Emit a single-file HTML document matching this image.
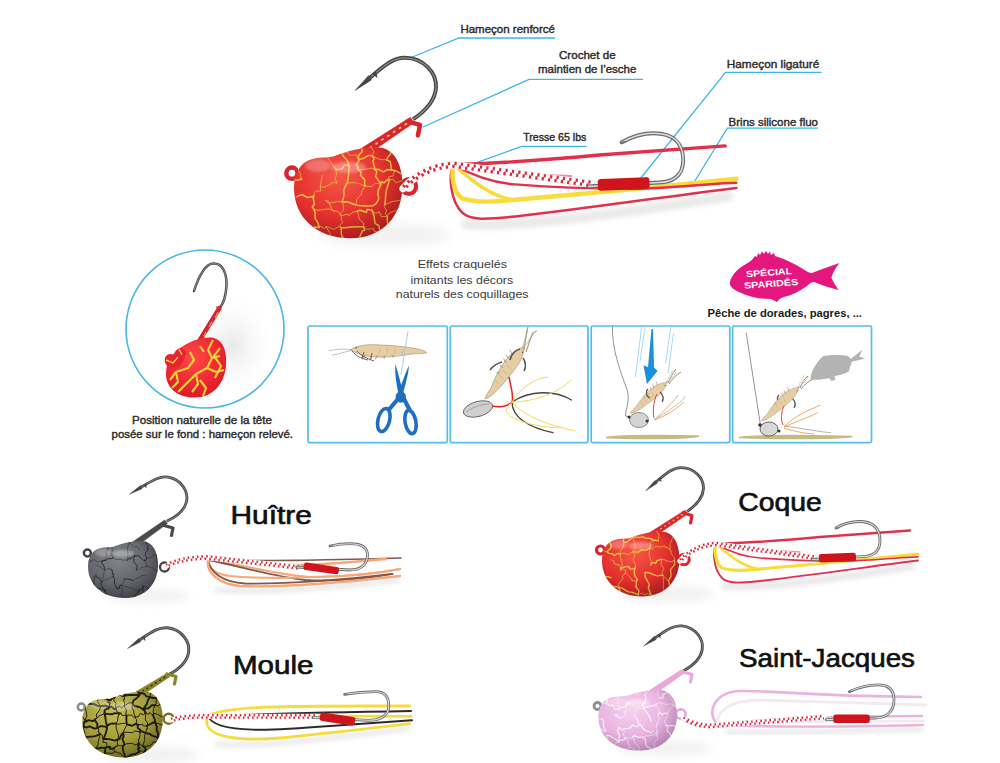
<!DOCTYPE html>
<html><head><meta charset="utf-8"><style>
html,body{margin:0;padding:0;background:#fff;}
svg{display:block;}
text{font-family:"Liberation Sans",sans-serif;}
</style></head><body>
<svg width="1000" height="763" viewBox="0 0 1000 763">
<defs><filter id="blur" x="-50%" y="-50%" width="200%" height="200%"><feGaussianBlur stdDeviation="4"/></filter>
<radialGradient id="hshade" cx="0.4" cy="0.35" r="0.75"><stop offset="0.55" stop-color="#000" stop-opacity="0"/><stop offset="1" stop-color="#000" stop-opacity="0.22"/></radialGradient><filter id="blur1" x="-50%" y="-50%" width="200%" height="200%"><feGaussianBlur stdDeviation="1.2"/></filter><filter id="blur2" x="-50%" y="-50%" width="200%" height="200%"><feGaussianBlur stdDeviation="2"/></filter><radialGradient id="gcoque" cx="0.42" cy="0.32" r="0.8"><stop offset="0" stop-color="#f65848"/><stop offset="0.55" stop-color="#e4302e"/><stop offset="1" stop-color="#c41e22"/></radialGradient><radialGradient id="gmain" cx="0.42" cy="0.32" r="0.8"><stop offset="0" stop-color="#f65848"/><stop offset="0.55" stop-color="#e4302e"/><stop offset="1" stop-color="#c41e22"/></radialGradient><radialGradient id="ghuitre" cx="0.42" cy="0.32" r="0.8"><stop offset="0" stop-color="#84858a"/><stop offset="0.55" stop-color="#64656b"/><stop offset="1" stop-color="#47484d"/></radialGradient><radialGradient id="gmoule" cx="0.42" cy="0.32" r="0.8"><stop offset="0" stop-color="#c4bc52"/><stop offset="0.55" stop-color="#a49c3a"/><stop offset="1" stop-color="#747028"/></radialGradient><radialGradient id="gsj" cx="0.42" cy="0.32" r="0.8"><stop offset="0" stop-color="#f6d4f0"/><stop offset="0.55" stop-color="#e8b2e0"/><stop offset="1" stop-color="#d898d0"/></radialGradient></defs>
<rect width="1000" height="763" fill="#ffffff"/>
<text x="460.4" y="32.6" font-size="11.2" fill="#2b2b2b" stroke="#2b2b2b" stroke-width="0.4" textLength="94.6" lengthAdjust="spacingAndGlyphs">Hameçon renforcé</text><polyline points="555.0,38.0 459.0,38.0 410.0,58.0" fill="none" stroke="#3db6e8" stroke-width="1.3"/><text x="559" y="59.4" font-size="11.2" fill="#2b2b2b" stroke="#2b2b2b" stroke-width="0.4" textLength="56.6" lengthAdjust="spacingAndGlyphs">Crochet de</text><text x="538" y="73.4" font-size="11.2" fill="#2b2b2b" stroke="#2b2b2b" stroke-width="0.4" textLength="98.4" lengthAdjust="spacingAndGlyphs">maintien de l’esche</text><polyline points="643.0,79.4 529.0,79.4 423.0,127.0" fill="none" stroke="#3db6e8" stroke-width="1.3"/><text x="523.2" y="141.3" font-size="11.2" fill="#2b2b2b" stroke="#2b2b2b" stroke-width="0.4" textLength="63.2" lengthAdjust="spacingAndGlyphs">Tresse 65 lbs</text><polyline points="586.4,146.4 521.6,146.4 464.0,167.2" fill="none" stroke="#3db6e8" stroke-width="1.3"/><text x="726.8" y="68.4" font-size="11.2" fill="#2b2b2b" stroke="#2b2b2b" stroke-width="0.4" textLength="92.4" lengthAdjust="spacingAndGlyphs">Hameçon ligaturé</text><polyline points="821.6,72.4 725.6,72.4 636.0,184.0" fill="none" stroke="#3db6e8" stroke-width="1.3"/><text x="728.6" y="126.4" font-size="11.2" fill="#2b2b2b" stroke="#2b2b2b" stroke-width="0.4" textLength="89.4" lengthAdjust="spacingAndGlyphs">Brins silicone fluo</text><polyline points="818.0,128.2 727.4,128.2 693.0,184.0" fill="none" stroke="#3db6e8" stroke-width="1.3"/><g><ellipse cx="667.9" cy="593.9" rx="46.5" ry="7.8" fill="#f1f1f1" filter="url(#blur)"/><g transform="matrix(0.99732 0.01553 -0.01553 0.99732 9.395 -8.757)"><path d="M656,481.6 C665,474 672,467 681,467 C694,467 704,477 703.5,488 C703,498 696,505 687.4,511" fill="none" stroke="#454545" stroke-width="2.8" stroke-linecap="butt"/><path d="M657,480.8 C665,474 672,467 681,467 C694,467 704,477 703.5,488 C703,498 696,505 687.4,511" fill="none" stroke="#a9a9a0" stroke-width="0.84" opacity="0.75"/><path d="M645.6,490.9 L657.2,483.2 L655,480.2 Z" fill="#454545" stroke="#454545" stroke-width="0.4" stroke-linejoin="round"/><path d="M657.5,478.6 L661.5,482 L660.5,477.2 Z" fill="#454545"/></g><path d="M683.0,513.0 L692.0,515.5 L690.5,523.0" fill="none" stroke="#d9252f" stroke-width="3.2" stroke-linecap="round" stroke-linejoin="round"/><path d="M685.1,510.2 L648.3,533.5 L651.7,538.5 L687.5,513.9 Z" fill="#d9252f" stroke="#d9252f" stroke-width="0.6" stroke-linejoin="round"/><path d="M682.7,514.4 L650.0,536.0" stroke="#f0c040" stroke-width="1.3" stroke-dasharray="2 3" /><circle cx="600.5" cy="550.0" r="4" fill="none" stroke="#d9252f" stroke-width="3.2"/><circle cx="684.0" cy="559.5" r="5.2" fill="none" stroke="#d9252f" stroke-width="3"/><clipPath id="ccoque"><path d="M602.0,560.8 C602.0,551.0 605.9,542.5 614.4,540.0 C620.6,538.0 625.2,539.3 629.9,538.0 C640.8,534.1 650.0,531.5 660.9,531.5 C674.1,531.5 679.5,544.5 679.5,558.8 C679.5,580.2 665.5,596.5 642.3,596.5 C617.5,596.5 602.0,580.9 602.0,560.8 Z"/></clipPath><path d="M602.0,560.8 C602.0,551.0 605.9,542.5 614.4,540.0 C620.6,538.0 625.2,539.3 629.9,538.0 C640.8,534.1 650.0,531.5 660.9,531.5 C674.1,531.5 679.5,544.5 679.5,558.8 C679.5,580.2 665.5,596.5 642.3,596.5 C617.5,596.5 602.0,580.9 602.0,560.8 Z" fill="url(#gcoque)"/><g clip-path="url(#ccoque)"><path d="M592.8,525.5L597.2,525.0L601.7,523.7L606.1,524.1L609.9,521.4M594.2,539.1L598.4,537.9L602.5,540.9L604.2,541.6L609.9,541.8M594.2,539.1L594.3,541.7L596.4,540.9L594.5,545.3L596.8,546.4M596.8,546.4L599.6,548.5L602.1,549.4L605.0,551.2L608.7,553.4M590.5,567.4L589.9,568.8L592.5,569.2L591.7,571.8L593.0,574.1M593.0,574.1L595.0,576.7L598.0,583.1L597.5,584.8L600.7,589.5M600.7,589.5L599.9,592.4L601.5,594.7L597.5,601.0L599.0,602.5M609.9,521.4L615.1,524.9L615.7,526.1L621.6,527.7L623.7,528.9M610.3,559.4L614.0,561.1L614.4,564.0L619.4,564.9L620.9,568.4M606.4,585.0L609.0,587.4L607.6,592.3L609.3,596.4L612.3,602.5M623.7,542.3L623.6,545.0L622.8,548.0L620.2,551.3L620.3,554.1M620.3,554.1L623.2,553.2L628.1,554.6L629.2,553.9L632.9,551.8M620.3,554.1L620.3,556.2L621.8,561.9L622.2,566.0L620.9,568.4M620.9,568.4L620.4,571.0L621.9,568.7L625.6,570.1L625.4,572.7M625.4,572.7L629.4,576.6L631.1,578.2L631.8,580.2L636.3,581.3M625.4,572.7L621.9,577.2L623.2,578.1L618.9,583.6L617.7,586.9M635.7,523.0L635.7,525.7L634.0,530.6L636.5,532.5L634.5,536.8M634.5,536.8L633.5,539.9L634.7,542.9L635.2,548.0L632.9,551.8M632.9,551.8L635.2,555.8L633.0,558.9L635.5,564.7L635.3,568.1M638.1,594.9L642.0,593.0L643.9,594.6L647.7,593.8L651.0,594.9M636.2,599.3L638.1,599.4L638.8,603.2L639.9,605.7L643.1,605.9M651.1,529.8L654.9,527.2L656.3,526.6L656.5,524.2L659.4,521.4M651.5,538.7L651.7,541.3L649.3,543.9L650.6,544.4L649.6,547.9M649.6,547.9L651.8,549.2L655.5,546.4L661.4,547.0L664.2,546.2M649.6,547.9L649.7,551.4L648.9,554.6L651.3,561.5L650.8,564.7M651.0,594.9L655.6,595.8L658.0,593.5L660.6,593.6L664.3,594.8M651.0,594.9L647.9,596.7L648.2,598.6L646.3,604.7L643.1,605.9M643.1,605.9L647.6,606.7L652.2,608.8L656.8,606.6L660.4,607.9M659.4,521.4L662.8,522.1L663.4,522.1L668.9,520.8L671.3,520.6M659.4,521.4L657.9,526.4L657.0,531.1L659.0,535.7L658.2,540.8M664.2,546.2L666.8,547.6L665.4,547.6L667.6,547.4L670.1,550.0M661.5,559.2L666.2,560.2L666.5,561.1L671.6,561.7L674.4,560.3M661.5,559.2L661.2,564.4L663.7,568.5L662.1,572.1L662.6,575.1M662.6,575.1L662.3,574.9L664.4,576.6L667.0,580.0L668.5,580.7M662.6,575.1L663.6,579.3L663.3,585.9L663.5,588.6L664.3,594.8M671.3,520.6L670.8,523.7L671.1,525.0L673.4,529.6L674.3,533.1M674.3,533.1L672.9,536.9L670.4,543.4L670.1,544.2L670.1,550.0M670.1,550.0L671.7,552.0L670.8,553.4L674.2,556.9L674.4,560.3M671.3,594.6L671.1,596.9L675.9,596.9L677.7,599.7L677.4,601.5" fill="none" stroke="#f0c040" stroke-width="0.70" stroke-linejoin="round" stroke-linecap="round"/><path d="M592.8,525.5L594.0,527.9L592.7,534.1L593.9,535.9L594.2,539.1M596.8,546.4L594.8,552.7L591.8,557.2L593.0,561.4L590.5,567.4M593.0,574.1L598.9,573.7L601.5,576.5L608.1,576.7L611.2,577.8M600.7,589.5L603.3,587.8L602.1,586.4L606.1,585.2L606.4,585.0M609.9,521.4L609.3,525.4L608.2,531.9L609.1,537.9L609.9,541.8M609.9,541.8L611.2,546.2L610.9,547.9L607.1,551.5L608.7,553.4M608.7,553.4L612.3,553.7L614.2,555.5L617.9,553.3L620.3,554.1M606.4,585.0L609.7,586.8L610.3,585.0L614.0,586.5L617.7,586.9M623.7,528.9L626.7,526.7L629.0,525.4L633.3,524.8L635.7,523.0M623.7,528.9L623.0,530.8L623.9,536.5L623.2,537.4L623.7,542.3M623.7,542.3L626.8,542.1L628.6,540.7L632.2,537.9L634.5,536.8M620.9,568.4L624.7,566.8L628.4,566.3L630.3,569.2L635.3,568.1M617.7,586.9L621.5,587.9L628.3,591.9L632.6,592.4L638.1,594.9M617.7,586.9L619.5,589.1L622.0,596.3L623.8,599.3L626.3,602.1M626.3,602.1L629.7,602.1L631.3,600.6L634.2,601.5L636.2,599.3M635.7,523.0L640.5,526.3L643.5,526.2L648.1,526.9L651.1,529.8M634.5,536.8L640.1,537.6L642.1,536.6L645.4,538.1L651.5,538.7M632.9,551.8L638.3,552.1L641.4,549.8L646.2,550.3L649.6,547.9M635.3,568.1L634.3,570.5L634.6,575.5L637.4,579.6L636.3,581.3M636.3,581.3L636.4,585.6L635.6,586.5L638.9,590.7L638.1,594.9M651.5,538.7L654.2,541.0L655.5,539.9L655.0,540.2L658.2,540.8M650.8,564.7L652.9,562.4L655.7,563.4L657.0,560.6L661.5,559.2M645.1,572.3L648.8,572.6L654.0,574.8L657.6,575.8L662.6,575.1M645.1,572.3L645.0,576.5L649.2,584.5L648.3,588.0L651.0,594.9M664.3,594.8L665.5,594.2L667.9,595.1L668.5,592.7L671.3,594.6M660.4,607.9L664.5,605.1L667.7,603.4L672.8,601.8L677.4,601.5M674.4,560.3L674.6,564.6L670.5,569.6L671.2,576.1L668.5,580.7M668.5,580.7L669.9,586.0L670.3,585.7L668.8,589.5L671.3,594.6" fill="none" stroke="#f0c040" stroke-width="1.35" stroke-linejoin="round" stroke-linecap="round"/><path d="M602.0,560.8 C602.0,551.0 605.9,542.5 614.4,540.0 C620.6,538.0 625.2,539.3 629.9,538.0 C640.8,534.1 650.0,531.5 660.9,531.5 C674.1,531.5 679.5,544.5 679.5,558.8 C679.5,580.2 665.5,596.5 642.3,596.5 C617.5,596.5 602.0,580.9 602.0,560.8 Z" fill="url(#hshade)"/><ellipse cx="619.0" cy="544.5" rx="9.3" ry="4.6" fill="#ffffff" opacity="0.25" filter="url(#blur1)"/><ellipse cx="640.8" cy="545.8" rx="12.4" ry="3.9" fill="#ffffff" opacity="0.3" filter="url(#blur1)"/></g><path d="M722,586 C760,590 860,575 915,566" fill="none" stroke="#e9e9e9" stroke-width="7" filter="url(#blur2)"/><path d="M716,544 C712,552 714,570 722,578 C728,584 740,583 760,581 C820,574 880,565 918,560.5" fill="none" stroke="#e2304c" stroke-width="1.8" stroke-linecap="round" opacity="1"/><path d="M716,544 C726,552 740,566 758,569" fill="none" stroke="#f9dc3c" stroke-width="2.6" stroke-linecap="round" opacity="1"/><path d="M716,544 C714,552 716,564 722,568 C735,572 750,570 770,568 C830,563 880,558 918,554" fill="none" stroke="#f9dc3c" stroke-width="3.2" stroke-linecap="round" opacity="1"/><path d="M716,544 C730,552 745,557 760,558 C800,561 840,562 870,560 C890,559 905,557 918,556.8" fill="none" stroke="#e2304c" stroke-width="1.7" stroke-linecap="round" opacity="1"/><path d="M716,544 C740,548 770,551 800,552" fill="none" stroke="#f08aa8" stroke-width="1.3" stroke-linecap="round" opacity="1"/><path d="M716,544 C740,543 780,541 820,537 C860,534 890,532 910,530.5" fill="none" stroke="#e2304c" stroke-width="2.4" stroke-linecap="round" opacity="1"/><path d="M680,561 C688,552 700,545 716,544 L817,558" fill="none" stroke="#e6e6e6" stroke-width="5.3999999999999995" stroke-linecap="round"/><path d="M680,561 C688,552 700,545 716,544 L817,558" fill="none" stroke="#ffffff" stroke-width="4.6" stroke-linecap="round"/><path d="M680,561 C688,552 700,545 716,544 L817,558" fill="none" stroke="#d8283a" stroke-width="2.30" stroke-dasharray="1.6 3" transform="translate(0,-1.15)"/><path d="M680,561 C688,552 700,545 716,544 L817,558" fill="none" stroke="#d8283a" stroke-width="2.30" stroke-dasharray="1.6 3" stroke-dashoffset="1.5" transform="translate(0,1.15)"/><path d="M836.0,528.0 C845.2,522.8 852.1,521.5 859.0,521.5 C874.8,521.5 880.0,530.3 880.0,541.0 C880.0,552.7 871.3,556.6 862.6,556.6 L812.0,559.5" fill="none" stroke="#6a6a6a" stroke-width="2.8" stroke-linecap="round"/><path d="M836.0,528.0 C845.2,522.8 852.1,521.5 859.0,521.5 C874.8,521.5 880.0,530.3 880.0,541.0 C880.0,552.7 871.3,556.6 862.6,556.6 L812.0,559.5" fill="none" stroke="#ececec" stroke-width="1.12" opacity="0.9"/><path d="M836.0,528.0 l3,-0.2" stroke="#6a6a6a" stroke-width="1.2"/><rect x="819.0" y="554.2" width="37.0" height="8.5" rx="2.5" fill="#d0141e" transform="rotate(-2.32 819.0 558.5)"/></g><g transform="translate(-548.8,-596.8) scale(1.4)"><ellipse cx="667.9" cy="593.9" rx="46.5" ry="7.8" fill="#f1f1f1" filter="url(#blur)"/><g transform="matrix(0.99732 0.01553 -0.01553 0.99732 9.395 -8.757)"><path d="M656,481.6 C665,474 672,467 681,467 C694,467 704,477 703.5,488 C703,498 696,505 687.4,511" fill="none" stroke="#454545" stroke-width="2.8" stroke-linecap="butt"/><path d="M657,480.8 C665,474 672,467 681,467 C694,467 704,477 703.5,488 C703,498 696,505 687.4,511" fill="none" stroke="#a9a9a0" stroke-width="0.84" opacity="0.75"/><path d="M645.6,490.9 L657.2,483.2 L655,480.2 Z" fill="#454545" stroke="#454545" stroke-width="0.4" stroke-linejoin="round"/><path d="M657.5,478.6 L661.5,482 L660.5,477.2 Z" fill="#454545"/></g><path d="M683.0,513.0 L692.0,515.5 L690.5,523.0" fill="none" stroke="#d9252f" stroke-width="3.2" stroke-linecap="round" stroke-linejoin="round"/><path d="M685.1,510.2 L648.3,533.5 L651.7,538.5 L687.5,513.9 Z" fill="#d9252f" stroke="#d9252f" stroke-width="0.6" stroke-linejoin="round"/><path d="M682.7,514.4 L650.0,536.0" stroke="#f0c040" stroke-width="1.3" stroke-dasharray="2 3" /><circle cx="600.5" cy="550.0" r="4" fill="none" stroke="#d9252f" stroke-width="3.2"/><circle cx="684.0" cy="559.5" r="5.2" fill="none" stroke="#d9252f" stroke-width="3"/><clipPath id="cmain"><path d="M602.0,560.8 C602.0,551.0 605.9,542.5 614.4,540.0 C620.6,538.0 625.2,539.3 629.9,538.0 C640.8,534.1 650.0,531.5 660.9,531.5 C674.1,531.5 679.5,544.5 679.5,558.8 C679.5,580.2 665.5,596.5 642.3,596.5 C617.5,596.5 602.0,580.9 602.0,560.8 Z"/></clipPath><path d="M602.0,560.8 C602.0,551.0 605.9,542.5 614.4,540.0 C620.6,538.0 625.2,539.3 629.9,538.0 C640.8,534.1 650.0,531.5 660.9,531.5 C674.1,531.5 679.5,544.5 679.5,558.8 C679.5,580.2 665.5,596.5 642.3,596.5 C617.5,596.5 602.0,580.9 602.0,560.8 Z" fill="url(#gmain)"/><g clip-path="url(#cmain)"><path d="M596.3,526.7L598.9,527.1L605.1,530.0L608.1,529.9L611.4,530.1M596.3,526.7L595.8,527.6L599.6,532.2L600.8,532.5L600.3,536.5M600.3,536.5L603.1,536.2L606.0,535.8L606.7,538.2L608.6,537.8M600.3,536.5L600.1,540.3L599.9,541.8L598.2,546.5L596.8,548.1M596.8,548.1L599.6,548.1L600.8,546.1L602.1,544.7L604.4,543.3M596.8,548.1L596.5,552.2L596.6,553.8L594.4,556.3L594.0,558.1M594.0,558.1L595.0,561.7L597.3,563.8L595.3,567.1L597.8,571.0M597.8,571.0L598.5,571.1L601.7,568.5L604.2,567.0L604.7,566.3M593.3,577.4L592.6,580.3L593.0,585.3L593.2,588.0L593.2,592.3M604.4,543.3L604.0,545.9L606.4,550.0L606.4,551.7L607.5,554.2M607.5,601.5L611.7,599.8L613.0,600.4L618.2,600.9L620.8,599.3M617.9,527.6L619.2,528.1L616.8,531.3L616.9,533.8L617.5,534.9M622.1,551.6L622.0,552.7L621.5,555.6L621.4,556.2L620.8,559.7M620.8,559.7L623.4,560.0L626.8,558.4L630.2,556.4L632.5,557.1M620.8,559.7L621.1,562.7L617.8,562.9L616.2,564.4L616.3,566.2M616.1,575.5L618.9,576.5L622.9,575.9L627.5,575.5L630.8,577.2M620.1,588.8L620.3,587.8L623.0,589.0L623.8,589.5L625.0,588.3M624.2,534.3L626.3,534.7L629.2,532.4L633.9,533.1L635.7,533.1M624.2,534.3L625.8,538.1L626.5,539.8L630.6,545.2L631.9,547.1M631.9,547.1L632.2,549.7L632.4,551.0L631.4,553.7L632.5,557.1M624.8,569.6L626.3,571.3L630.5,570.9L633.0,570.2L636.4,570.5M624.8,569.6L626.7,570.0L628.5,574.5L628.3,575.1L630.8,577.2M630.8,577.2L631.1,576.9L633.4,577.2L635.9,580.5L635.9,580.3M625.0,588.3L627.4,588.8L630.4,590.2L634.0,588.1L635.8,589.0M625.0,588.3L627.7,592.8L628.4,596.6L631.7,599.5L632.4,602.5M635.8,524.1L641.0,523.9L644.2,526.3L647.6,527.1L653.6,528.8M635.8,524.1L634.9,527.7L636.3,528.0L636.2,531.0L635.7,533.1M635.7,533.1L640.3,535.3L642.4,537.4L646.4,536.8L648.0,540.0M639.5,557.5L643.6,556.5L647.4,557.2L649.3,557.7L652.6,559.2M636.4,570.5L637.1,572.6L637.4,576.2L634.6,579.4L635.9,580.3M635.9,580.3L640.0,579.3L641.5,580.2L643.6,578.0L647.2,577.1M635.9,580.3L635.8,584.0L636.9,585.0L634.6,587.2L635.8,589.0M636.6,598.3L640.7,598.8L642.6,597.0L644.3,597.7L647.9,596.7M653.6,528.8L654.8,529.1L654.2,527.0L657.5,528.7L656.7,526.9M647.2,546.5L649.4,547.6L652.7,547.2L657.7,546.3L659.1,547.0M652.6,559.2L655.4,559.4L657.7,559.4L659.9,557.2L664.1,557.8M652.6,559.2L650.4,563.2L650.0,565.2L646.7,568.8L646.2,572.7M647.2,577.1L648.0,579.5L648.6,582.9L651.7,585.6L651.9,588.2M651.9,588.2L653.8,590.1L659.0,589.6L659.2,591.4L663.6,592.4M647.9,596.7L651.2,598.2L651.7,597.6L654.4,598.2L658.1,597.6M656.7,526.9L659.9,528.5L664.8,529.3L668.4,528.7L672.8,529.9M656.7,526.9L657.0,529.7L658.1,532.9L659.0,534.7L658.0,537.6M658.0,537.6L661.7,539.4L664.2,540.4L667.1,540.3L668.2,540.6M657.5,576.2L660.4,578.8L663.0,577.6L664.4,581.1L668.6,580.8M674.0,548.2L672.9,551.3L673.1,551.9L669.5,552.6L670.1,554.6M670.1,554.6L673.4,554.8L674.7,556.9L680.2,554.8L682.3,556.1M666.9,572.4L672.1,570.3L677.3,569.4L681.1,567.1L684.9,566.0M666.9,572.4L666.2,573.3L668.3,577.3L667.1,578.4L668.6,580.8M668.6,580.8L669.4,579.1L671.8,577.8L674.8,576.7L677.3,577.2M668.7,592.4L668.9,594.4L668.9,595.1L670.9,597.9L671.6,598.5M678.6,528.1L679.9,529.7L678.8,532.3L677.0,534.3L677.7,534.5M681.9,550.4L680.8,553.3L680.9,554.5L682.3,554.8L682.3,556.1" fill="none" stroke="#f0c040" stroke-width="0.56" stroke-linejoin="round" stroke-linecap="round"/><path d="M594.0,558.1L598.5,555.8L601.6,554.6L604.5,555.1L607.5,554.2M597.8,571.0L596.5,573.6L596.9,575.4L594.0,576.1L593.3,577.4M593.3,577.4L595.8,578.9L599.4,578.8L602.2,577.8L603.3,578.8M593.2,592.3L593.2,591.8L597.0,592.9L597.7,595.6L598.3,596.4M611.4,530.1L611.8,529.4L613.1,529.9L615.4,527.1L617.9,527.6M611.4,530.1L610.5,532.5L610.5,534.9L610.7,536.4L608.6,537.8M608.6,537.8L609.8,535.5L613.0,537.0L614.3,534.9L617.5,534.9M608.6,537.8L607.6,539.5L607.3,540.2L606.4,543.2L604.4,543.3M604.7,566.3L608.1,565.4L611.2,567.3L613.8,567.0L616.3,566.2M606.8,592.6L611.0,591.1L614.8,591.8L616.3,588.5L620.1,588.8M606.8,592.6L607.8,594.8L605.6,598.0L605.9,600.2L607.5,601.5M617.5,534.9L620.3,535.0L620.3,534.2L623.6,535.7L624.2,534.3M616.3,566.2L615.7,567.6L616.6,572.2L615.0,574.1L616.1,575.5M616.1,575.5L617.1,578.0L617.1,582.3L618.9,585.1L620.1,588.8M620.8,599.3L624.5,601.1L627.9,600.3L628.9,603.0L632.4,602.5M631.9,547.1L634.3,547.3L636.7,546.5L638.2,543.9L641.5,544.6M635.7,533.1L636.4,535.6L637.2,537.9L639.7,540.5L641.5,544.6M641.5,544.6L641.1,549.3L640.8,552.6L640.5,555.3L639.5,557.5M639.5,557.5L637.4,562.2L637.7,564.1L637.5,566.8L636.4,570.5M636.4,570.5L639.1,570.4L642.0,570.9L642.2,571.3L646.2,572.7M635.8,589.0L638.4,588.9L642.7,588.5L648.4,588.3L651.9,588.2M635.8,589.0L635.7,592.2L636.3,595.3L637.8,596.7L636.6,598.3M653.6,528.8L650.8,530.9L650.5,534.8L648.1,537.4L648.0,540.0M648.0,540.0L651.0,539.6L653.4,538.4L655.4,537.3L658.0,537.6M648.0,540.0L648.8,540.3L646.4,544.2L647.8,545.7L647.2,546.5M647.2,546.5L649.9,549.4L649.5,551.5L652.4,554.6L652.6,559.2M646.2,572.7L648.7,573.1L653.7,573.5L658.6,573.2L660.8,571.6M647.2,577.1L649.2,576.5L653.7,577.9L654.1,576.0L657.5,576.2M651.9,588.2L652.4,590.8L650.9,591.1L649.0,595.5L647.9,596.7M658.0,537.6L659.2,539.7L658.3,541.2L659.6,546.2L659.1,547.0M659.1,547.0L661.9,547.1L665.9,549.1L668.9,547.3L674.0,548.2M659.1,547.0L661.2,548.7L660.2,552.3L663.1,556.4L664.1,557.8M664.1,557.8L664.6,556.1L666.3,556.9L668.9,554.5L670.1,554.6M664.1,557.8L662.2,562.1L661.9,564.9L662.6,568.1L660.8,571.6M657.5,576.2L659.1,580.3L659.9,585.8L662.6,587.5L663.6,592.4M663.6,592.4L664.5,593.3L666.9,592.7L666.4,591.3L668.7,592.4M663.6,592.4L663.4,593.7L661.3,596.6L658.7,596.4L658.1,597.6M672.8,529.9L675.3,530.6L676.7,527.7L676.4,529.2L678.6,528.1M672.8,529.9L671.6,534.0L670.8,536.4L668.7,538.9L668.2,540.6M668.2,540.6L670.7,541.6L671.2,544.5L671.5,547.4L674.0,548.2M674.0,548.2L674.6,548.2L677.8,550.0L679.4,550.4L681.9,550.4M670.1,554.6L668.9,559.2L667.8,563.0L667.3,568.5L666.9,572.4M668.6,580.8L668.6,584.2L669.5,587.7L668.3,589.0L668.7,592.4M668.7,592.4L671.4,591.5L676.3,590.1L678.4,587.9L680.9,586.0M671.6,598.5L672.3,599.5L676.4,599.0L676.4,599.0L678.6,599.2M677.7,534.5L677.4,537.6L680.0,543.0L680.3,547.7L681.9,550.4M682.3,556.1L684.3,560.1L684.6,561.4L683.0,564.6L684.9,566.0M677.3,577.2L678.4,580.4L678.1,581.7L678.6,582.3L680.9,586.0" fill="none" stroke="#f0c040" stroke-width="1.08" stroke-linejoin="round" stroke-linecap="round"/><path d="M602.0,560.8 C602.0,551.0 605.9,542.5 614.4,540.0 C620.6,538.0 625.2,539.3 629.9,538.0 C640.8,534.1 650.0,531.5 660.9,531.5 C674.1,531.5 679.5,544.5 679.5,558.8 C679.5,580.2 665.5,596.5 642.3,596.5 C617.5,596.5 602.0,580.9 602.0,560.8 Z" fill="url(#hshade)"/><ellipse cx="619.0" cy="544.5" rx="9.3" ry="4.6" fill="#ffffff" opacity="0.25" filter="url(#blur1)"/><ellipse cx="640.8" cy="545.8" rx="12.4" ry="3.9" fill="#ffffff" opacity="0.3" filter="url(#blur1)"/></g><path d="M722,586 C760,590 860,575 915,566" fill="none" stroke="#e9e9e9" stroke-width="7" filter="url(#blur2)"/><path d="M716,544 C712,552 714,570 722,578 C728,584 740,583 760,581 C820,574 880,565 918,560.5" fill="none" stroke="#e2304c" stroke-width="1.8" stroke-linecap="round" opacity="1"/><path d="M716,544 C726,552 740,566 758,569" fill="none" stroke="#f9dc3c" stroke-width="2.6" stroke-linecap="round" opacity="1"/><path d="M716,544 C714,552 716,564 722,568 C735,572 750,570 770,568 C830,563 880,558 918,554" fill="none" stroke="#f9dc3c" stroke-width="3.2" stroke-linecap="round" opacity="1"/><path d="M716,544 C730,552 745,557 760,558 C800,561 840,562 870,560 C890,559 905,557 918,556.8" fill="none" stroke="#e2304c" stroke-width="1.7" stroke-linecap="round" opacity="1"/><path d="M716,544 C740,548 770,551 800,552" fill="none" stroke="#f08aa8" stroke-width="1.3" stroke-linecap="round" opacity="1"/><path d="M716,544 C740,543 780,541 820,537 C860,534 890,532 910,530.5" fill="none" stroke="#e2304c" stroke-width="2.4" stroke-linecap="round" opacity="1"/><path d="M680,561 C688,552 700,545 716,544 L817,558" fill="none" stroke="#e6e6e6" stroke-width="5.3999999999999995" stroke-linecap="round"/><path d="M680,561 C688,552 700,545 716,544 L817,558" fill="none" stroke="#ffffff" stroke-width="4.6" stroke-linecap="round"/><path d="M680,561 C688,552 700,545 716,544 L817,558" fill="none" stroke="#d8283a" stroke-width="2.30" stroke-dasharray="1.6 3" transform="translate(0,-1.15)"/><path d="M680,561 C688,552 700,545 716,544 L817,558" fill="none" stroke="#d8283a" stroke-width="2.30" stroke-dasharray="1.6 3" stroke-dashoffset="1.5" transform="translate(0,1.15)"/><path d="M836.0,528.0 C845.2,522.8 852.1,521.5 859.0,521.5 C874.8,521.5 880.0,530.3 880.0,541.0 C880.0,552.7 871.3,556.6 862.6,556.6 L812.0,559.5" fill="none" stroke="#6a6a6a" stroke-width="2.8" stroke-linecap="round"/><path d="M836.0,528.0 C845.2,522.8 852.1,521.5 859.0,521.5 C874.8,521.5 880.0,530.3 880.0,541.0 C880.0,552.7 871.3,556.6 862.6,556.6 L812.0,559.5" fill="none" stroke="#ececec" stroke-width="1.12" opacity="0.9"/><path d="M836.0,528.0 l3,-0.2" stroke="#6a6a6a" stroke-width="1.2"/><rect x="819.0" y="554.2" width="37.0" height="8.5" rx="2.5" fill="#d0141e" transform="rotate(-2.32 819.0 558.5)"/></g><g><ellipse cx="147.5" cy="595.7" rx="42.0" ry="6.8" fill="#f1f1f1" filter="url(#blur)"/><g transform="matrix(0.97667 0.17685 -0.17685 0.97667 -414.323 -99.326)"><path d="M656,481.6 C665,474 672,467 681,467 C694,467 704,477 703.5,488 C703,498 696,505 687.4,511" fill="none" stroke="#454545" stroke-width="2.8" stroke-linecap="butt"/><path d="M657,480.8 C665,474 672,467 681,467 C694,467 704,477 703.5,488 C703,498 696,505 687.4,511" fill="none" stroke="#a9a9a0" stroke-width="0.84" opacity="0.75"/><path d="M645.6,490.9 L657.2,483.2 L655,480.2 Z" fill="#454545" stroke="#454545" stroke-width="0.4" stroke-linejoin="round"/><path d="M657.5,478.6 L661.5,482 L660.5,477.2 Z" fill="#454545"/></g><path d="M164.0,525.5 L173.0,528.0 L171.5,535.5" fill="none" stroke="#4a4a4e" stroke-width="3.2" stroke-linecap="round" stroke-linejoin="round"/><path d="M164.7,520.0 L130.7,543.3 L134.1,548.1 L167.3,523.6 Z" fill="#4a4a4e" stroke="#4a4a4e" stroke-width="0.6" stroke-linejoin="round"/><circle cx="87.4" cy="553.0" r="3.5" fill="none" stroke="#444448" stroke-width="2.5"/><circle cx="164.5" cy="567.0" r="4.5" fill="none" stroke="#444448" stroke-width="2.3"/><clipPath id="chuitre"><path d="M88.0,566.6 C88.0,558.1 91.5,550.7 99.2,548.4 C104.8,546.7 109.0,547.8 113.2,546.7 C123.0,543.3 131.4,541.0 141.2,541.0 C153.1,541.0 158.0,552.4 158.0,564.9 C158.0,583.8 145.4,598.0 124.4,598.0 C102.0,598.0 88.0,584.3 88.0,566.6 Z"/></clipPath><path d="M88.0,566.6 C88.0,558.1 91.5,550.7 99.2,548.4 C104.8,546.7 109.0,547.8 113.2,546.7 C123.0,543.3 131.4,541.0 141.2,541.0 C153.1,541.0 158.0,552.4 158.0,564.9 C158.0,583.8 145.4,598.0 124.4,598.0 C102.0,598.0 88.0,584.3 88.0,566.6 Z" fill="url(#ghuitre)"/><g clip-path="url(#chuitre)"><path d="M85.2,550.1L84.9,554.3L86.1,556.9L84.7,558.0L84.7,560.6M84.7,560.6L85.7,560.3L87.0,560.2L91.3,562.1L91.5,560.6M84.7,560.6L82.7,561.0L80.9,564.9L81.3,565.3L78.6,567.4M86.1,585.7L88.8,585.1L90.2,586.7L92.9,585.2L94.3,585.9M82.4,597.6L82.5,599.0L84.9,600.8L87.3,602.6L89.1,602.9M93.7,536.3L93.0,539.0L92.5,539.6L91.4,543.2L89.2,543.9M91.5,560.6L94.2,559.6L97.9,562.2L99.5,561.5L102.2,561.0M95.6,564.8L98.7,566.2L100.5,566.7L102.6,569.0L104.4,569.2M89.1,602.9L93.1,601.9L99.7,601.5L102.5,600.2L107.4,598.0M108.1,549.5L105.8,551.7L106.7,554.9L105.2,559.4L102.2,561.0M104.4,569.2L105.2,570.6L108.3,568.4L108.2,568.1L110.5,569.2M104.4,569.2L104.0,572.4L103.4,576.0L103.0,577.7L101.5,582.1M101.5,582.1L104.6,580.3L106.8,579.5L110.2,577.6L113.3,576.7M111.7,542.6L111.9,546.6L112.3,549.7L111.6,554.4L113.0,557.9M113.0,557.9L115.8,559.4L121.2,559.5L122.4,560.2L127.5,560.0M113.1,599.6L116.9,600.2L116.5,602.2L119.1,603.0L122.6,603.6M129.4,542.3L131.6,545.0L133.5,546.9L137.6,546.8L139.7,550.1M129.4,542.3L127.7,547.0L127.6,552.3L127.9,555.0L127.5,560.0M124.2,579.0L124.5,581.0L123.7,581.9L123.1,583.7L121.2,585.2M121.2,585.2L126.3,586.6L128.6,587.2L133.3,588.9L138.6,592.1M121.2,585.2L122.4,588.2L121.8,595.6L122.7,598.8L122.6,603.6M136.3,570.0L138.3,569.8L142.4,567.0L143.6,567.6L147.1,566.1M132.7,580.5L137.3,577.7L137.5,578.9L141.8,575.4L145.2,575.6M143.2,534.3L146.2,535.0L149.2,534.2L150.8,530.9L154.5,531.8M145.4,560.6L147.3,557.8L150.7,558.0L153.0,554.8L156.6,554.8M145.4,560.6L144.8,561.3L145.8,562.1L146.4,564.1L147.1,566.1M147.1,566.1L151.2,567.7L153.5,568.5L155.2,570.4L158.2,570.5M143.1,586.0L146.7,587.3L147.2,587.9L149.9,590.2L153.6,592.6M156.6,554.8L156.8,558.3L156.9,561.1L158.1,567.6L158.2,570.5M157.0,577.7L157.5,581.3L155.1,585.0L155.3,590.3L153.6,592.6" fill="none" stroke="#2a2a2e" stroke-width="0.49" stroke-linejoin="round" stroke-linecap="round"/><path d="M83.7,537.7L84.8,542.3L84.9,544.8L83.6,546.8L85.2,550.1M95.9,575.3L96.2,576.8L99.2,577.8L100.7,580.8L101.5,582.1M95.9,575.3L94.6,576.5L93.9,580.0L93.7,582.2L94.3,585.9M94.3,585.9L96.8,588.0L100.3,588.6L104.1,589.6L105.6,593.0M94.3,585.9L92.7,588.9L92.8,594.0L88.9,599.0L89.1,602.9M101.5,533.2L103.4,533.4L107.7,534.5L112.0,533.3L113.5,532.8M108.1,549.5L107.8,548.0L110.3,544.9L111.2,545.6L111.7,542.6M102.2,561.0L106.5,560.2L107.3,558.8L111.9,558.6L113.0,557.9M102.2,561.0L101.5,563.4L103.1,564.4L104.7,568.2L104.4,569.2M101.5,582.1L101.0,584.1L103.4,588.9L105.8,590.5L105.6,593.0M105.6,593.0L106.3,594.9L106.9,595.5L108.3,596.4L107.4,598.0M113.5,532.8L116.3,533.6L118.9,533.4L124.3,531.9L127.1,531.9M110.5,569.2L112.3,570.2L112.3,574.4L113.3,573.7L113.3,576.7M113.3,576.7L114.7,579.5L114.3,583.2L114.9,584.6L117.4,588.9M117.4,588.9L116.9,588.2L120.1,588.2L119.1,585.9L121.2,585.2M127.1,531.9L128.1,533.7L128.4,536.3L129.7,539.7L129.4,542.3M127.5,560.0L130.0,557.5L130.0,559.3L133.5,555.9L134.7,555.8M124.2,579.0L126.7,578.9L127.6,579.2L130.9,579.6L132.7,580.5M122.6,603.6L123.9,602.5L127.0,603.2L130.9,602.4L132.1,603.5M133.5,537.8L134.8,536.3L137.5,536.0L139.3,536.5L143.2,534.3M134.7,555.8L138.8,555.8L140.6,557.5L143.3,560.2L145.4,560.6M134.7,555.8L133.6,558.5L134.1,562.6L137.4,566.0L136.3,570.0M138.6,592.1L139.2,589.3L139.5,590.4L142.0,589.0L143.1,586.0M138.6,592.1L135.5,594.6L133.9,597.0L133.4,600.1L132.1,603.5M132.1,603.5L137.7,602.6L140.2,603.4L144.4,602.5L148.3,604.0M143.2,534.3L144.6,537.8L145.9,542.8L147.9,545.4L147.7,549.9M147.7,549.9L145.9,552.0L145.2,556.1L147.0,557.4L145.4,560.6M143.1,586.0L143.0,591.4L145.9,593.5L145.6,598.3L148.3,604.0M158.2,570.5L158.0,571.2L158.3,573.9L158.7,576.8L157.0,577.7" fill="none" stroke="#2a2a2e" stroke-width="0.94" stroke-linejoin="round" stroke-linecap="round"/><path d="M88.0,566.6 C88.0,558.1 91.5,550.7 99.2,548.4 C104.8,546.7 109.0,547.8 113.2,546.7 C123.0,543.3 131.4,541.0 141.2,541.0 C153.1,541.0 158.0,552.4 158.0,564.9 C158.0,583.8 145.4,598.0 124.4,598.0 C102.0,598.0 88.0,584.3 88.0,566.6 Z" fill="url(#hshade)"/><ellipse cx="103.4" cy="552.4" rx="8.4" ry="4.0" fill="#ffffff" opacity="0.25" filter="url(#blur1)"/><ellipse cx="123.0" cy="553.5" rx="11.2" ry="3.4" fill="#ffffff" opacity="0.3" filter="url(#blur1)"/></g><path d="M215,590 C260,594 350,586 400,580" fill="none" stroke="#ececec" stroke-width="6" filter="url(#blur2)"/><path d="M208,559 C260,562 330,560 401,558" fill="none" stroke="#80584e" stroke-width="1.6" stroke-linecap="round" opacity="1"/><path d="M208,558 C230,562 270,565 300,565 C340,564 370,560 386,559" fill="none" stroke="#f7a878" stroke-width="2.4" stroke-linecap="round" opacity="1"/><path d="M208,559 C240,565 280,575 310,577 C350,577 385,572 400,569" fill="none" stroke="#f7a878" stroke-width="2.2" stroke-linecap="round" opacity="1"/><path d="M208,560 C240,566 270,576 305,580 C340,582 375,577 392.5,573.8" fill="none" stroke="#80584e" stroke-width="1.8" stroke-linecap="round" opacity="1"/><path d="M208,560 C208,568 215,574 230,576 C260,579 300,578 340,576 C370,574 390,571 400,569" fill="none" stroke="#f7a878" stroke-width="2.2" stroke-linecap="round" opacity="1"/><path d="M208,560 C210,572 222,582 245,583.5 C290,584 340,580 392.5,573.8" fill="none" stroke="#80584e" stroke-width="1.8" stroke-linecap="round" opacity="1"/><path d="M208,560 C206,572 218,584 240,586 C280,588 350,582 400,576" fill="none" stroke="#f7a878" stroke-width="2.4" stroke-linecap="round" opacity="1"/><path d="M166,566 Q180,558 207.5,557.5 L300,567.5" fill="none" stroke="#e6e6e6" stroke-width="5.3999999999999995" stroke-linecap="round"/><path d="M166,566 Q180,558 207.5,557.5 L300,567.5" fill="none" stroke="#ffffff" stroke-width="4.6" stroke-linecap="round"/><path d="M166,566 Q180,558 207.5,557.5 L300,567.5" fill="none" stroke="#d8283a" stroke-width="2.30" stroke-dasharray="1.6 3" transform="translate(0,-1.15)"/><path d="M166,566 Q180,558 207.5,557.5 L300,567.5" fill="none" stroke="#d8283a" stroke-width="2.30" stroke-dasharray="1.6 3" stroke-dashoffset="1.5" transform="translate(0,1.15)"/><path d="M330.0,546.0 C338.0,544.2 344.0,543.7 350.0,543.7 C363.1,543.7 367.5,548.8 367.5,555.0 C367.5,566.2 358.8,570.0 350.0,570.0 L296.7,567.0" fill="none" stroke="#6a6a6a" stroke-width="2.8" stroke-linecap="round"/><path d="M330.0,546.0 C338.0,544.2 344.0,543.7 350.0,543.7 C363.1,543.7 367.5,548.8 367.5,555.0 C367.5,566.2 358.8,570.0 350.0,570.0 L296.7,567.0" fill="none" stroke="#ececec" stroke-width="1.12" opacity="0.9"/><path d="M330.0,546.0 l3,-0.2" stroke="#6a6a6a" stroke-width="1.2"/><rect x="303.7" y="562.2" width="35.4" height="7.5" rx="2.5" fill="#d0141e" transform="rotate(8.13 303.7 566.0)"/></g><g><ellipse cx="150.7" cy="754.9" rx="48.3" ry="7.9" fill="#f1f1f1" filter="url(#blur)"/><g transform="matrix(1.04797 0.12116 -0.12116 1.04797 -489.533 55.862)"><path d="M656,481.6 C665,474 672,467 681,467 C694,467 704,477 703.5,488 C703,498 696,505 687.4,511" fill="none" stroke="#454545" stroke-width="2.8" stroke-linecap="butt"/><path d="M657,480.8 C665,474 672,467 681,467 C694,467 704,477 703.5,488 C703,498 696,505 687.4,511" fill="none" stroke="#a9a9a0" stroke-width="0.84" opacity="0.75"/><path d="M645.6,490.9 L657.2,483.2 L655,480.2 Z" fill="#454545" stroke="#454545" stroke-width="0.4" stroke-linejoin="round"/><path d="M657.5,478.6 L661.5,482 L660.5,477.2 Z" fill="#454545"/></g><path d="M167.0,674.0 L176.0,676.5 L174.5,684.0" fill="none" stroke="#8a8428" stroke-width="3.2" stroke-linecap="round" stroke-linejoin="round"/><path d="M167.1,673.2 L135.9,691.8 L139.3,697.2 L169.5,676.9 Z" fill="#8a8428" stroke="#8a8428" stroke-width="0.6" stroke-linejoin="round"/><path d="M165.2,677.0 L137.6,694.5" stroke="#1e1e14" stroke-width="1.3" stroke-dasharray="2 3" /><circle cx="81.3" cy="707.0" r="3.5" fill="none" stroke="#8a8a8a" stroke-width="2.5"/><circle cx="168.6" cy="718.7" r="5" fill="none" stroke="#7a7420" stroke-width="2.5"/><clipPath id="cmoule"><path d="M82.3,721.3 C82.3,711.4 86.3,702.8 95.2,700.2 C101.6,698.2 106.5,699.5 111.3,698.2 C122.6,694.2 132.2,691.6 143.5,691.6 C157.2,691.6 162.8,704.8 162.8,719.3 C162.8,741.0 148.3,757.5 124.2,757.5 C98.4,757.5 82.3,741.7 82.3,721.3 Z"/></clipPath><path d="M82.3,721.3 C82.3,711.4 86.3,702.8 95.2,700.2 C101.6,698.2 106.5,699.5 111.3,698.2 C122.6,694.2 132.2,691.6 143.5,691.6 C157.2,691.6 162.8,704.8 162.8,719.3 C162.8,741.0 148.3,757.5 124.2,757.5 C98.4,757.5 82.3,741.7 82.3,721.3 Z" fill="url(#gmoule)"/><g clip-path="url(#cmoule)"><path d="M75.2,690.3L76.7,689.1L80.7,687.2L82.7,687.3L83.4,684.9M75.2,690.3L76.4,693.1L74.2,695.2L73.8,695.8L74.5,698.1M74.5,698.1L76.9,697.9L80.8,699.9L84.0,700.6L86.5,699.7M74.1,704.3L75.9,706.1L78.9,708.8L79.1,712.9L81.3,713.9M81.3,713.9L81.6,716.3L83.6,717.9L83.9,719.3L85.3,720.0M81.3,713.9L81.1,717.6L81.4,721.0L80.0,721.6L78.5,725.7M78.5,725.7L78.6,725.9L82.2,727.5L83.7,725.4L83.8,726.9M75.0,748.2L75.5,750.5L74.7,750.3L75.5,752.8L74.2,753.3M83.4,684.9L86.3,686.6L92.1,686.4L95.7,688.0L100.2,687.3M83.4,684.9L85.4,689.1L86.4,692.2L85.3,697.0L86.5,699.7M86.5,699.7L88.9,698.0L89.3,697.4L92.3,696.1L94.2,693.1M86.3,703.3L84.8,706.5L86.0,710.6L86.9,715.6L85.3,720.0M83.8,726.9L83.6,729.0L84.6,732.2L85.0,735.0L86.2,737.1M86.2,737.1L86.2,740.0L85.6,742.3L86.7,744.2L85.9,747.1M85.9,747.1L88.3,747.1L91.1,748.5L92.5,747.2L95.9,748.6M87.2,756.6L87.6,757.5L89.8,756.5L93.8,758.0L94.2,757.5M100.2,687.3L101.5,686.1L102.9,687.3L103.9,687.7L103.7,688.2M100.2,687.3L100.1,687.6L97.2,690.2L97.1,692.3L94.2,693.1M94.2,693.1L96.3,695.6L97.9,698.8L97.6,701.7L100.5,706.2M100.5,706.2L99.6,710.2L96.7,713.9L96.6,717.4L94.6,719.7M94.6,719.7L97.7,717.5L100.0,715.3L101.6,715.0L104.5,713.4M97.7,727.8L98.4,728.7L98.7,732.4L98.4,731.8L100.0,734.1M100.0,734.1L102.1,735.0L102.5,735.4L102.3,738.8L103.5,739.0M100.0,734.1L99.3,737.7L98.1,742.5L98.3,744.1L95.9,748.6M94.2,757.5L96.7,755.5L99.4,756.3L102.4,755.8L104.7,753.4M103.7,688.2L105.9,688.3L109.4,686.9L111.0,686.7L112.8,685.5M103.7,688.2L104.6,691.0L106.0,695.0L106.3,696.0L108.4,700.0M108.4,700.0L107.7,702.5L110.2,702.8L109.4,705.3L109.6,706.4M103.5,739.0L102.9,742.2L106.6,742.7L106.9,745.2L106.9,747.2M104.7,753.4L107.1,753.0L109.4,753.2L111.9,753.5L115.1,751.6M112.8,685.5L115.6,685.6L121.1,685.9L124.4,686.1L128.6,685.4M114.8,695.9L115.9,694.9L120.3,695.5L122.8,696.9L123.9,696.0M114.8,695.9L113.8,700.6L116.4,703.7L115.5,705.1L115.7,709.0M115.7,709.0L117.0,707.0L119.8,706.3L121.5,707.9L124.4,705.6M115.7,709.0L116.8,710.9L116.7,711.6L120.1,713.3L119.7,713.6M119.7,713.6L120.8,712.7L122.2,715.5L124.6,715.4L126.1,715.5M119.7,713.6L117.7,717.2L118.1,717.1L117.4,721.6L115.9,723.4M115.9,723.4L118.0,724.3L122.0,723.4L125.7,723.5L127.2,724.3M115.9,723.4L116.3,728.8L117.5,732.2L118.6,735.9L118.0,739.5M118.0,739.5L117.3,742.1L117.6,745.0L115.6,746.3L114.3,747.7M114.3,747.7L117.2,746.1L119.2,745.4L120.6,745.8L123.4,745.8M114.3,747.7L114.2,748.9L113.8,749.5L114.3,751.3L115.1,751.6M115.1,751.6L118.8,753.1L121.0,753.5L122.5,755.8L125.4,757.9M128.6,685.4L130.2,686.7L133.8,687.9L135.3,688.1L136.4,688.3M123.9,696.0L124.7,699.2L123.2,699.5L124.8,702.9L124.4,705.6M124.4,705.6L127.6,704.0L127.7,703.2L131.0,702.8L132.5,703.5M124.4,705.6L124.8,707.4L126.3,709.4L125.9,714.0L126.1,715.5M126.1,715.5L127.3,715.2L131.4,715.1L134.4,717.6L135.4,716.7M127.2,724.3L125.7,727.1L125.0,728.3L123.5,731.4L123.3,732.5M123.3,732.5L126.0,732.2L132.7,732.7L135.0,730.9L140.0,731.9M123.4,745.8L126.6,743.8L132.4,743.3L134.7,745.0L139.0,743.3M132.5,703.5L132.1,708.1L133.9,711.2L133.8,713.7L135.4,716.7M135.4,716.7L138.3,717.0L140.3,713.4L143.4,714.7L145.7,712.9M135.4,716.7L135.7,718.6L136.6,719.6L136.3,723.2L138.2,724.8M138.2,724.8L141.6,724.6L142.4,724.0L143.3,725.9L147.0,726.0M140.0,731.9L140.0,735.1L139.3,739.1L138.2,739.6L139.0,743.3M139.0,743.3L139.4,744.7L141.1,745.0L142.7,745.3L143.2,746.3M139.3,751.8L140.0,750.6L142.3,751.1L144.7,753.6L145.8,752.5M149.8,688.7L150.9,687.3L152.4,688.7L153.5,688.3L155.5,688.5M149.8,688.7L149.1,690.7L151.2,691.6L149.8,696.5L150.0,697.1M145.7,712.9L148.5,714.3L149.4,712.5L152.4,715.0L153.8,713.8M145.7,712.9L145.5,717.4L145.3,719.8L147.7,722.9L147.0,726.0M147.0,726.0L147.3,729.0L147.4,728.2L146.2,730.2L145.9,733.1M145.9,733.1L144.7,735.1L144.7,739.6L143.4,744.3L143.2,746.3M143.2,746.3L145.5,746.3L150.9,745.3L153.1,742.2L156.8,741.9M145.8,752.5L148.2,752.2L149.0,753.8L153.5,753.5L154.9,754.9M155.5,688.5L157.3,690.3L158.6,690.0L160.4,689.4L162.6,690.4M155.5,688.5L154.8,690.1L155.3,692.1L155.8,695.2L157.7,696.3M157.7,696.3L160.9,695.9L163.1,695.4L165.1,695.3L167.8,696.5M157.7,696.3L156.3,698.6L156.1,701.9L156.3,703.6L155.1,705.2M155.1,705.2L158.4,706.0L160.9,703.1L163.8,702.9L167.4,704.0M155.1,705.2L153.6,708.4L153.7,709.3L153.1,711.7L153.8,713.8M153.8,713.8L154.8,713.4L157.7,714.5L162.1,716.7L163.7,716.4M155.5,722.9L158.4,723.6L162.9,725.3L165.1,727.1L167.7,727.1M157.7,737.4L158.0,738.9L157.0,738.7L158.4,739.6L156.8,741.9M162.6,690.4L163.3,692.5L166.1,693.9L166.5,695.4L167.8,696.5M167.8,696.5L168.3,697.3L168.6,699.8L166.3,700.7L167.4,704.0M167.4,704.0L166.2,705.7L166.1,711.2L163.2,713.6L163.7,716.4" fill="none" stroke="#1e1e14" stroke-width="0.98" stroke-linejoin="round" stroke-linecap="round"/><path d="M74.5,698.1L74.7,699.3L74.1,701.2L74.3,703.8L74.1,704.3M74.1,704.3L77.8,703.4L80.0,702.7L84.2,702.9L86.3,703.3M78.5,725.7L78.6,727.6L76.4,731.9L78.4,733.7L77.0,735.8M77.0,735.8L80.3,736.7L81.9,735.9L83.3,736.3L86.2,737.1M77.0,735.8L75.4,739.5L75.5,741.0L74.8,744.8L75.0,748.2M75.0,748.2L76.5,747.1L79.8,746.7L83.9,746.2L85.9,747.1M74.2,753.3L78.7,755.6L81.9,753.9L83.4,755.5L87.2,756.6M86.5,699.7L85.8,699.7L86.5,702.3L87.3,702.8L86.3,703.3M86.3,703.3L88.5,703.7L94.7,704.3L97.6,705.9L100.5,706.2M85.3,720.0L86.5,721.4L88.6,720.1L92.8,721.2L94.6,719.7M85.3,720.0L85.4,721.7L83.6,722.7L83.8,724.7L83.8,726.9M83.8,726.9L86.9,727.5L89.4,726.3L94.8,728.7L97.7,727.8M86.2,737.1L90.4,736.6L92.4,736.6L96.0,735.9L100.0,734.1M85.9,747.1L87.1,750.3L85.7,752.3L86.2,755.4L87.2,756.6M94.2,693.1L97.6,693.8L100.3,697.2L106.2,698.8L108.4,700.0M100.5,706.2L102.0,706.0L105.6,705.6L107.4,706.6L109.6,706.4M94.6,719.7L96.6,722.8L97.5,724.1L97.2,725.7L97.7,727.8M97.7,727.8L100.3,726.3L101.6,726.1L105.4,726.8L107.1,726.1M95.9,748.6L99.0,748.2L101.0,747.8L104.4,747.9L106.9,747.2M95.9,748.6L94.8,751.0L94.1,753.4L93.3,754.8L94.2,757.5M108.4,700.0L110.6,700.2L112.3,698.2L114.6,697.3L114.8,695.9M109.6,706.4L112.3,707.2L113.3,708.2L114.0,708.9L115.7,709.0M109.6,706.4L108.7,708.5L106.4,708.9L104.6,710.5L104.5,713.4M104.5,713.4L108.5,714.1L111.9,714.3L114.5,713.1L119.7,713.6M104.5,713.4L105.3,716.8L105.6,719.3L105.9,721.7L107.1,726.1M107.1,726.1L109.5,724.2L112.5,723.3L112.6,723.9L115.9,723.4M107.1,726.1L106.7,729.6L106.1,732.4L104.9,735.5L103.5,739.0M103.5,739.0L106.2,738.9L110.1,739.4L114.8,740.6L118.0,739.5M106.9,747.2L110.1,746.7L109.8,748.7L112.7,748.8L114.3,747.7M106.9,747.2L105.3,747.7L105.2,751.6L104.9,751.7L104.7,753.4M112.8,685.5L112.0,688.4L114.2,690.8L115.6,692.0L114.8,695.9M118.0,739.5L119.4,739.1L121.4,734.6L121.3,735.4L123.3,732.5M128.6,685.4L127.1,687.5L125.5,690.2L125.1,694.4L123.9,696.0M123.9,696.0L127.2,695.2L130.7,694.9L137.1,695.0L140.1,693.1M126.1,715.5L126.7,716.7L126.3,718.5L126.7,723.6L127.2,724.3M127.2,724.3L129.5,725.0L132.2,725.8L135.2,724.0L138.2,724.8M123.3,732.5L123.7,736.1L122.4,739.0L124.4,743.9L123.4,745.8M123.4,745.8L122.6,748.0L123.8,752.8L124.7,755.0L125.4,757.9M125.4,757.9L130.1,755.2L132.9,754.3L135.6,753.9L139.3,751.8M136.4,688.3L139.7,688.4L141.8,688.2L146.1,688.4L149.8,688.7M136.4,688.3L138.0,688.3L137.0,690.8L139.4,692.8L140.1,693.1M140.1,693.1L142.9,693.3L145.0,694.5L146.3,696.3L150.0,697.1M140.1,693.1L139.3,695.5L137.3,697.7L133.5,700.6L132.5,703.5M132.5,703.5L134.2,705.8L137.2,706.5L140.0,707.3L143.6,710.0M138.2,724.8L137.6,727.1L138.0,728.3L140.3,729.8L140.0,731.9M140.0,731.9L140.8,730.8L143.6,732.2L143.5,732.2L145.9,733.1M139.0,743.3L138.0,745.3L139.4,748.3L138.0,748.5L139.3,751.8M150.0,697.1L151.4,697.5L152.7,698.0L156.3,697.7L157.7,696.3M150.0,697.1L147.9,700.3L146.9,703.9L143.8,708.1L143.6,710.0M143.6,710.0L145.4,708.5L148.4,708.3L151.8,705.3L155.1,705.2M143.6,710.0L144.3,709.5L144.9,711.4L145.2,712.9L145.7,712.9M147.0,726.0L149.7,724.3L151.8,723.4L152.4,722.5L155.5,722.9M145.9,733.1L150.2,734.0L150.9,735.0L154.2,736.3L157.7,737.4M143.2,746.3L144.5,746.8L145.8,749.5L144.5,751.2L145.8,752.5M153.8,713.8L152.8,715.4L154.7,719.0L154.8,720.5L155.5,722.9M155.5,722.9L156.8,726.9L156.7,730.8L158.2,733.2L157.7,737.4M157.7,737.4L157.6,738.1L158.9,736.5L161.7,738.0L161.9,736.7M156.8,741.9L159.1,743.0L161.8,745.5L165.0,745.4L169.0,747.5M156.8,741.9L155.0,745.8L155.2,748.8L156.8,750.7L154.9,754.9M154.9,754.9L159.1,755.2L161.5,758.5L166.6,759.5L169.1,759.2M163.7,716.4L166.0,718.5L166.8,721.9L165.9,723.8L167.7,727.1M167.7,727.1L165.4,729.8L165.6,731.2L163.8,734.8L161.9,736.7M161.9,736.7L163.5,738.3L164.2,741.1L167.9,744.8L169.0,747.5M169.0,747.5L167.6,750.7L169.0,754.5L169.4,757.3L169.1,759.2" fill="none" stroke="#1e1e14" stroke-width="1.89" stroke-linejoin="round" stroke-linecap="round"/><path d="M82.3,721.3 C82.3,711.4 86.3,702.8 95.2,700.2 C101.6,698.2 106.5,699.5 111.3,698.2 C122.6,694.2 132.2,691.6 143.5,691.6 C157.2,691.6 162.8,704.8 162.8,719.3 C162.8,741.0 148.3,757.5 124.2,757.5 C98.4,757.5 82.3,741.7 82.3,721.3 Z" fill="url(#hshade)"/><ellipse cx="100.0" cy="704.8" rx="9.7" ry="4.6" fill="#ffffff" opacity="0.25" filter="url(#blur1)"/><ellipse cx="122.6" cy="706.1" rx="12.9" ry="4.0" fill="#ffffff" opacity="0.3" filter="url(#blur1)"/></g><path d="M215,744 C260,748 350,736 410,728" fill="none" stroke="#ececec" stroke-width="6" filter="url(#blur2)"/><path d="M208,716 C225,705 300,706 409.6,706" fill="none" stroke="#f5dc3a" stroke-width="2.8" stroke-linecap="round" opacity="1"/><path d="M208,716 C260,714 350,712 411,711" fill="none" stroke="#2e2a26" stroke-width="2" stroke-linecap="round" opacity="1"/><path d="M208,716 C260,716 350,716 411,716.4" fill="none" stroke="#f5dc3a" stroke-width="2.6" stroke-linecap="round" opacity="1"/><path d="M208,716 C215,735 280,730 330,726 C370,723 400,721 412,720.3" fill="none" stroke="#2e2a26" stroke-width="2" stroke-linecap="round" opacity="1"/><path d="M208,716 C200,735 230,742 280,738 C340,732 390,726 409.6,723.7" fill="none" stroke="#f5dc3a" stroke-width="2.8" stroke-linecap="round" opacity="1"/><path d="M171,720 Q185,716 208,716.4 L316,716.4" fill="none" stroke="#e6e6e6" stroke-width="5.3999999999999995" stroke-linecap="round"/><path d="M171,720 Q185,716 208,716.4 L316,716.4" fill="none" stroke="#ffffff" stroke-width="4.6" stroke-linecap="round"/><path d="M171,720 Q185,716 208,716.4 L316,716.4" fill="none" stroke="#d8283a" stroke-width="2.30" stroke-dasharray="1.6 3" transform="translate(0,-1.15)"/><path d="M171,720 Q185,716 208,716.4 L316,716.4" fill="none" stroke="#d8283a" stroke-width="2.30" stroke-dasharray="1.6 3" stroke-dashoffset="1.5" transform="translate(0,1.15)"/><path d="M344.6,694.3 C357.1,692.2 366.4,691.7 375.8,691.7 C385.6,691.7 388.8,698.1 388.8,706.0 C388.8,716.7 378.4,720.3 368.0,720.3 L313.0,717.4" fill="none" stroke="#6a6a6a" stroke-width="2.8" stroke-linecap="round"/><path d="M344.6,694.3 C357.1,692.2 366.4,691.7 375.8,691.7 C385.6,691.7 388.8,698.1 388.8,706.0 C388.8,716.7 378.4,720.3 368.0,720.3 L313.0,717.4" fill="none" stroke="#ececec" stroke-width="1.12" opacity="0.9"/><path d="M344.6,694.3 l3,-0.2" stroke="#6a6a6a" stroke-width="1.2"/><rect x="320.0" y="712.1" width="35.4" height="8.5" rx="2.5" fill="#d0141e" transform="rotate(8.45 320.0 716.4)"/></g><g><ellipse cx="665.2" cy="748.3" rx="47.2" ry="7.3" fill="#f1f1f1" filter="url(#blur)"/><g transform="matrix(1.00638 0.11147 -0.11147 1.00638 48.653 80.062)"><path d="M656,481.6 C665,474 672,467 681,467 C694,467 704,477 703.5,488 C703,498 696,505 687.4,511" fill="none" stroke="#454545" stroke-width="2.8" stroke-linecap="butt"/><path d="M657,480.8 C665,474 672,467 681,467 C694,467 704,477 703.5,488 C703,498 696,505 687.4,511" fill="none" stroke="#a9a9a0" stroke-width="0.84" opacity="0.75"/><path d="M645.6,490.9 L657.2,483.2 L655,480.2 Z" fill="#454545" stroke="#454545" stroke-width="0.4" stroke-linejoin="round"/><path d="M657.5,478.6 L661.5,482 L660.5,477.2 Z" fill="#454545"/></g><path d="M683.0,672.0 L692.0,674.5 L690.5,682.0" fill="none" stroke="#e8a8dc" stroke-width="3.2" stroke-linecap="round" stroke-linejoin="round"/><path d="M681.6,669.6 L650.0,690.1 L653.4,695.1 L684.1,673.2 Z" fill="#e8a8dc" stroke="#e8a8dc" stroke-width="0.6" stroke-linejoin="round"/><circle cx="597.5" cy="706.0" r="3.5" fill="none" stroke="#909090" stroke-width="2.8"/><circle cx="680.8" cy="714.0" r="4.8" fill="none" stroke="#e0a8d8" stroke-width="2.5"/><clipPath id="csj"><path d="M598.4,717.2 C598.4,708.0 602.3,700.1 611.0,697.6 C617.3,695.8 622.0,697.0 626.7,695.8 C637.7,692.1 647.1,689.7 658.1,689.7 C671.5,689.7 677.0,701.9 677.0,715.3 C677.0,735.5 662.9,750.7 639.3,750.7 C614.1,750.7 598.4,736.1 598.4,717.2 Z"/></clipPath><path d="M598.4,717.2 C598.4,708.0 602.3,700.1 611.0,697.6 C617.3,695.8 622.0,697.0 626.7,695.8 C637.7,692.1 647.1,689.7 658.1,689.7 C671.5,689.7 677.0,701.9 677.0,715.3 C677.0,735.5 662.9,750.7 639.3,750.7 C614.1,750.7 598.4,736.1 598.4,717.2 Z" fill="url(#gsj)"/><g clip-path="url(#csj)"><path d="M592.0,692.2L597.1,693.8L601.0,694.7L604.4,696.9L606.8,697.9M589.1,705.3L592.1,703.9L599.0,705.7L603.6,703.4L606.5,703.4M596.6,719.7L599.0,719.4L599.9,719.6L600.0,720.0L602.2,718.2M596.6,719.7L597.8,722.7L596.5,721.1L596.9,722.9L595.2,725.6M595.2,725.6L596.1,726.8L595.5,730.0L594.8,735.1L593.2,737.0M593.2,737.0L598.0,735.6L600.8,735.6L605.0,736.7L607.2,735.3M590.1,746.5L594.6,747.8L595.8,750.1L602.2,748.8L604.8,751.4M601.4,688.0L604.0,690.5L603.8,694.1L606.3,694.0L606.8,697.9M607.2,735.3L607.6,738.3L607.3,743.0L605.7,746.9L604.8,751.4M614.9,681.4L619.3,683.0L621.7,683.5L625.2,681.9L626.6,683.6M614.9,681.4L615.0,685.4L615.6,688.0L613.4,689.5L614.6,691.6M614.6,691.6L616.7,695.4L618.0,700.1L617.9,706.2L618.6,709.3M618.2,742.0L616.2,742.5L615.0,745.0L614.5,745.9L614.9,749.2M614.9,749.2L620.0,749.3L623.3,748.7L627.8,749.0L630.1,747.2M626.6,683.6L629.6,683.9L631.5,682.6L632.5,683.3L636.0,681.6M628.5,702.1L627.0,706.1L625.9,709.1L624.5,715.8L621.8,718.2M623.8,728.3L625.6,731.0L623.2,733.4L624.3,736.4L625.5,737.6M625.5,737.6L628.7,737.8L628.7,738.2L632.3,738.1L632.9,736.6M625.5,737.6L627.3,740.3L627.9,744.0L628.5,743.5L630.1,747.2M630.1,747.2L632.5,748.5L633.8,748.1L635.4,750.9L639.0,750.9M636.0,681.6L637.0,683.5L641.7,682.2L641.4,683.6L645.4,682.7M636.0,681.6L634.9,685.3L635.4,687.3L636.2,689.9L637.9,693.2M635.5,708.3L637.1,708.5L638.0,707.8L643.2,708.8L643.7,707.9M635.5,708.3L636.0,711.6L636.0,712.7L634.2,713.7L635.1,717.6M632.9,736.6L634.3,741.8L634.9,742.9L638.6,746.1L639.0,750.9M639.0,750.9L642.4,751.8L646.7,750.2L649.7,750.9L651.7,752.3M645.4,682.7L649.4,683.0L650.6,683.9L654.1,686.2L657.8,688.1M645.4,682.7L644.8,687.4L644.0,687.8L646.5,693.3L644.8,694.8M649.7,732.0L651.2,733.6L652.7,730.5L654.6,733.1L657.6,732.1M643.4,737.1L645.4,735.9L651.0,735.5L652.5,734.9L657.1,734.7M651.7,752.3L652.7,752.3L653.1,751.2L654.0,747.3L654.6,747.0M657.8,688.1L657.6,690.4L658.1,693.5L658.1,695.0L659.7,698.0M656.8,703.4L661.0,702.7L666.6,704.8L671.1,703.8L673.8,705.5M656.8,703.4L655.7,707.1L658.7,707.3L659.2,712.2L658.1,713.9M658.1,713.9L659.5,719.7L657.2,722.7L656.1,727.6L657.6,732.1M657.6,732.1L657.2,731.3L657.1,734.7L656.5,735.2L657.1,734.7M657.1,734.7L657.9,739.1L657.5,739.2L653.6,743.2L654.6,747.0M654.6,747.0L656.0,748.2L660.6,748.9L662.8,749.3L665.5,749.8M672.0,683.0L669.7,685.6L668.5,688.8L667.7,690.4L667.7,691.6M667.7,691.6L669.5,692.1L673.3,693.6L675.0,693.7L677.2,695.4M667.7,691.6L669.2,695.6L670.9,698.8L672.5,701.0L673.8,705.5M673.8,705.5L671.1,707.3L669.7,708.9L669.2,710.7L667.0,713.2M667.0,713.2L667.8,715.1L665.0,720.8L664.5,720.5L665.7,725.1M678.3,688.6L677.7,689.3L676.2,691.3L676.3,693.6L677.2,695.4M684.8,716.9L683.7,720.7L681.2,723.4L678.6,726.0L678.3,727.2" fill="none" stroke="#fbf0fa" stroke-width="0.63" stroke-linejoin="round" stroke-linecap="round"/><path d="M590.6,680.8L589.4,682.8L590.5,685.5L590.8,690.5L592.0,692.2M595.2,725.6L596.5,725.9L601.0,728.6L604.1,731.1L605.9,731.1M593.2,737.0L590.9,737.8L592.0,741.7L592.1,744.5L590.1,746.5M601.4,688.0L605.7,685.7L607.2,684.6L613.0,681.7L614.9,681.4M606.8,697.9L608.1,697.4L610.4,695.7L611.5,694.4L614.6,691.6M606.8,697.9L606.7,698.7L606.8,702.0L607.3,700.4L606.5,703.4M606.5,703.4L609.5,705.6L612.5,705.0L614.8,709.0L618.6,709.3M602.2,718.2L603.7,721.8L603.4,726.0L604.9,729.2L605.9,731.1M607.2,735.3L609.8,735.8L613.6,738.2L616.0,739.1L618.2,742.0M604.8,751.4L607.0,752.3L608.8,750.8L611.8,749.1L614.9,749.2M618.6,709.3L620.2,707.0L624.0,707.4L627.3,703.6L628.5,702.1M615.2,715.3L616.6,714.4L617.5,716.9L620.8,717.8L621.8,718.2M618.4,728.7L618.6,727.2L622.7,730.1L623.9,728.7L623.8,728.3M618.4,728.7L617.6,731.1L619.7,736.6L619.1,737.5L618.2,742.0M618.2,742.0L621.5,739.8L622.8,740.4L623.8,740.2L625.5,737.6M626.6,683.6L624.6,687.3L623.9,688.2L624.4,692.2L622.8,693.5M622.8,693.5L626.3,691.9L631.6,691.8L635.6,692.1L637.9,693.2M623.8,728.3L629.1,728.5L632.3,725.1L636.5,726.8L640.3,724.5M635.1,717.6L637.3,719.0L638.1,722.2L638.4,723.2L640.3,724.5M640.3,724.5L641.1,725.6L644.3,729.6L646.2,731.0L649.7,732.0M632.9,736.6L634.2,735.8L639.6,737.4L642.1,737.0L643.4,737.1M644.8,694.8L645.9,698.7L644.8,702.5L642.7,703.6L643.7,707.9M643.7,707.9L647.1,706.9L649.8,706.4L654.6,705.4L656.8,703.4M643.7,707.9L644.6,710.3L647.6,713.4L649.7,717.2L651.1,721.1M643.4,737.1L645.3,739.7L646.1,745.7L650.4,748.3L651.7,752.3M657.8,688.1L661.7,687.6L663.4,685.4L669.5,683.1L672.0,683.0M659.7,698.0L663.2,697.8L662.9,694.3L665.8,693.4L667.7,691.6M658.1,713.9L659.6,712.3L662.5,714.8L663.8,713.3L667.0,713.2M672.0,683.0L673.4,683.2L673.9,686.7L676.2,686.7L678.3,688.6M673.8,705.5L676.8,706.9L678.2,704.8L680.0,704.8L682.9,705.3M665.7,725.1L669.3,725.8L671.0,725.3L676.6,726.4L678.3,727.2M665.7,725.1L667.8,727.1L667.0,731.5L668.4,731.7L671.1,735.9M671.1,735.9L670.5,739.6L669.9,742.4L666.4,746.9L665.5,749.8M665.5,749.8L669.6,750.9L671.9,753.0L674.9,753.2L678.3,753.3" fill="none" stroke="#fbf0fa" stroke-width="1.22" stroke-linejoin="round" stroke-linecap="round"/><path d="M598.4,717.2 C598.4,708.0 602.3,700.1 611.0,697.6 C617.3,695.8 622.0,697.0 626.7,695.8 C637.7,692.1 647.1,689.7 658.1,689.7 C671.5,689.7 677.0,701.9 677.0,715.3 C677.0,735.5 662.9,750.7 639.3,750.7 C614.1,750.7 598.4,736.1 598.4,717.2 Z" fill="url(#hshade)"/><ellipse cx="615.7" cy="701.9" rx="9.4" ry="4.3" fill="#ffffff" opacity="0.25" filter="url(#blur1)"/><ellipse cx="637.7" cy="703.1" rx="12.6" ry="3.7" fill="#ffffff" opacity="0.4" filter="url(#blur1)"/></g><path d="M725,732 C780,734 870,730 923,729" fill="none" stroke="#ececec" stroke-width="6" filter="url(#blur2)"/><path d="M718,725 C705,712 715,692 740,691 C770,690 800,696 921,697" fill="none" stroke="#eab2dc" stroke-width="2.6" stroke-linecap="round" opacity="1"/><path d="M718,725 C715,712 730,700 760,700 C820,702 880,704 926,705" fill="none" stroke="#f3eaf0" stroke-width="2.8" stroke-linecap="round" opacity="1"/><path d="M718,725 C760,718 860,716 922,716" fill="none" stroke="#eab2dc" stroke-width="2.4" stroke-linecap="round" opacity="1"/><path d="M718,725 C770,722 870,721 924,721" fill="none" stroke="#f3eaf0" stroke-width="2.6" stroke-linecap="round" opacity="1"/><path d="M718,725 C780,728 880,726 923,725" fill="none" stroke="#eab2dc" stroke-width="2.4" stroke-linecap="round" opacity="1"/><path d="M683.5,718.6 Q700,728 718.6,725.3 L824,717.2" fill="none" stroke="#e6e6e6" stroke-width="5.3999999999999995" stroke-linecap="round"/><path d="M683.5,718.6 Q700,728 718.6,725.3 L824,717.2" fill="none" stroke="#ffffff" stroke-width="4.6" stroke-linecap="round"/><path d="M683.5,718.6 Q700,728 718.6,725.3 L824,717.2" fill="none" stroke="#d8283a" stroke-width="2.30" stroke-dasharray="1.6 3" transform="translate(0,-1.15)"/><path d="M683.5,718.6 Q700,728 718.6,725.3 L824,717.2" fill="none" stroke="#d8283a" stroke-width="2.30" stroke-dasharray="1.6 3" stroke-dashoffset="1.5" transform="translate(0,1.15)"/><path d="M849.5,691.6 C860.9,686.2 869.4,684.8 877.9,684.8 C890.0,684.8 894.0,691.5 894.0,699.7 C894.0,713.4 884.5,718.0 875.0,718.0 L826.3,719.6" fill="none" stroke="#6a6a6a" stroke-width="2.8" stroke-linecap="round"/><path d="M849.5,691.6 C860.9,686.2 869.4,684.8 877.9,684.8 C890.0,684.8 894.0,691.5 894.0,699.7 C894.0,713.4 884.5,718.0 875.0,718.0 L826.3,719.6" fill="none" stroke="#ececec" stroke-width="1.12" opacity="0.9"/><path d="M849.5,691.6 l3,-0.2" stroke="#6a6a6a" stroke-width="1.2"/><rect x="833.3" y="714.4" width="36.5" height="8.5" rx="2.5" fill="#d0141e" transform="rotate(0.00 833.3 718.6)"/></g><text x="230.5" y="523.6" font-size="25.6" font-weight="normal" fill="#111" stroke="#111" stroke-width="0.65" textLength="81.4" lengthAdjust="spacingAndGlyphs">Huître</text><text x="738.3" y="510.8" font-size="25.6" font-weight="normal" fill="#111" stroke="#111" stroke-width="0.65" textLength="83.6" lengthAdjust="spacingAndGlyphs">Coque</text><text x="233" y="673.5" font-size="25.6" font-weight="normal" fill="#111" stroke="#111" stroke-width="0.65" textLength="80.5" lengthAdjust="spacingAndGlyphs">Moule</text><text x="739" y="667" font-size="25.6" font-weight="normal" fill="#111" stroke="#111" stroke-width="0.65" textLength="176.0" lengthAdjust="spacingAndGlyphs">Saint-Jacques</text>
<radialGradient id="cshadow" cx="0.62" cy="0.55" r="0.5"><stop offset="0" stop-color="#e8e8e8"/><stop offset="1" stop-color="#ffffff" stop-opacity="0"/></radialGradient><circle cx="205" cy="329" r="79" fill="#fff" stroke="#4db6e8" stroke-width="1.6"/><ellipse cx="222" cy="340" rx="45" ry="55" fill="url(#cshadow)"/><path d="M194,291 C198,278 205,264 213,263.6 C222,263 227,272 226.5,285.6 C226,296 224,303 219.2,308.7" fill="none" stroke="#464646" stroke-width="2.5" stroke-linecap="round"/><path d="M194,291 C198,278 205,264 213,263.6 C222,263 227,272 226.5,285.6 C226,296 224,303 219.2,308.7" fill="none" stroke="#b0b0b0" stroke-width="0.7"/><path d="M216,307 l4,1" stroke="#888" stroke-width="1.5"/><path d="M219.5,308 L198,343" stroke="#d9252f" stroke-width="4.5" stroke-linecap="round"/><path d="M218,312 l-3,6 M212,322 l-3,5 M206,332 l-2,4" stroke="#f0c040" stroke-width="1"/><clipPath id="ccirc"><path d="M178,350 C188,341 204,336 214,338 C224,341 227,352 226,366 C224,385 212,397.5 195,397.5 C178,398 166,388 166,374 C166,363 170,356 178,350 Z"/></clipPath><radialGradient id="gcirc" cx="0.45" cy="0.35" r="0.8"><stop offset="0" stop-color="#ff4a48"/><stop offset="0.6" stop-color="#ec2430"/><stop offset="1" stop-color="#c8161e"/></radialGradient><path d="M178,350 C188,341 204,336 214,338 C224,341 227,352 226,366 C224,385 212,397.5 195,397.5 C178,398 166,388 166,374 C166,363 170,356 178,350 Z" fill="url(#gcirc)"/><g clip-path="url(#ccirc)" fill="none" stroke="#f4d43a" stroke-width="2.1" stroke-linejoin="round"><polyline points="213,340 208,350 212,358 207,368 196,374 188,382 178,392"/><polyline points="220,348 214,356 221,366 215,378"/><polyline points="190,352 194,360 188,368 176,372 170,380"/><polyline points="200,380 206,388 203,396"/><polyline points="183,348 185,356 178,362"/><polyline points="196,374 198,384 192,392"/><polyline points="207,368 216,372 224,370"/><polyline points="212,358 220,356"/><polyline points="200,346 204,352"/><polyline points="176,372 178,382 172,388"/></g><path d="M165,358 C166,354 171,353 174,355 C175,350 179,347 183,348 C187,350 187,356 184,359 C182,366 176,369 170,368 C166,366 164,362 165,358 Z" fill="#e82430"/><path d="M166,360 l7,3 l5,-6 M179,349 l3,6" fill="none" stroke="#f2d03a" stroke-width="1.4"/><text x="132" y="424" font-size="11" fill="#2b2b2b" stroke="#2b2b2b" stroke-width="0.4" textLength="140" lengthAdjust="spacingAndGlyphs">Position naturelle de la tête</text><text x="111.6" y="438" font-size="11" fill="#2b2b2b" stroke="#2b2b2b" stroke-width="0.4" textLength="181.4" lengthAdjust="spacingAndGlyphs">posée sur le fond : hameçon relevé.</text><text x="417.8" y="268" font-size="11" fill="#3a3a3a" textLength="89.1" lengthAdjust="spacingAndGlyphs">Effets craquelés</text><text x="410.6" y="283.8" font-size="11" fill="#3a3a3a" textLength="102.6" lengthAdjust="spacingAndGlyphs">imitants les décors</text><text x="395.8" y="298.2" font-size="11" fill="#3a3a3a" textLength="132.7" lengthAdjust="spacingAndGlyphs">naturels des coquillages</text><rect x="308" y="326" width="139.3" height="116.6" rx="1.5" fill="#fff" stroke="#55bdec" stroke-width="1.7"/><rect x="450.3" y="326" width="137.7" height="116.6" rx="1.5" fill="#fff" stroke="#55bdec" stroke-width="1.7"/><rect x="591.2" y="326" width="138.6" height="116.6" rx="1.5" fill="#fff" stroke="#55bdec" stroke-width="1.7"/><rect x="732.6" y="326" width="138.9" height="116.6" rx="1.5" fill="#fff" stroke="#55bdec" stroke-width="1.7"/><g transform="translate(350,346) scale(0.76,0.62)"><path d="M0,6 C8,0 20,-3 35,-2 C55,-1 75,1 90,5 C96,7 100,9 101,11 C95,13 88,12 80,13 C60,18 40,19 25,17 C15,15 8,11 0,6 Z" fill="#e6cda4" stroke="#8a7a66" stroke-width="0.7"/><path d="M2,6 C-10,4 -20,5 -28,8 M2,7 C-8,10 -16,13 -24,15" fill="none" stroke="#9a8a76" stroke-width="0.8"/><path d="M20,14 l-4,8 M28,15 l-2,8 M36,15 l-3,7 M45,15 l0,6 M55,14 l2,5" stroke="#8a7a66" stroke-width="1"/><path d="M40,4 l-2,8 M50,4 l-2,9 M60,5 l-2,9 M70,6 l-2,8" stroke="#b09a7a" stroke-width="0.7"/><circle cx="8" cy="3" r="1" fill="#222"/></g><path d="M352,351 C356,356 360,358 368,360 M357,351 C361,356 366,358 374,361 M364,352 l-2,6 M372,353 l-1,6" fill="none" stroke="#6a6055" stroke-width="1"/><path d="M408,331 L401,375" stroke="#9cc8ee" stroke-width="0.9"/><path d="M395.4,364 C397.5,372 401,382 402.5,392 L398.5,394 C396.5,384 394.5,374 395.4,364 Z" fill="#1f6fc0"/><path d="M409,365.5 C408.5,374 405.5,384 403,394 L399,392 C402,382 406,372 409,365.5 Z" fill="#1f6fc0"/><ellipse cx="400.8" cy="397" rx="5.2" ry="5.8" fill="#1f6fc0"/><path d="M397,400 L389.5,409 M404.5,400 L409.5,409.5" stroke="#1f6fc0" stroke-width="4.2" stroke-linecap="round"/><ellipse cx="383.8" cy="420" rx="5.8" ry="11.8" fill="none" stroke="#1f6fc0" stroke-width="3.6" transform="rotate(14 383.8 420)"/><ellipse cx="410.5" cy="422" rx="5.4" ry="11.8" fill="none" stroke="#1f6fc0" stroke-width="3.6" transform="rotate(-10 410.5 422)"/><g transform="translate(527,349) rotate(124) scale(0.64)"><path d="M0,6 C8,0 20,-3 35,-2 C55,-1 75,1 90,5 C96,7 100,9 101,11 C95,13 88,12 80,13 C60,18 40,19 25,17 C15,15 8,11 0,6 Z" fill="#e6cda4" stroke="#8a7a66" stroke-width="0.7"/><path d="M2,6 C-10,4 -20,5 -28,8 M2,7 C-8,10 -16,13 -24,15" fill="none" stroke="#9a8a76" stroke-width="0.8"/><path d="M20,14 l-4,8 M28,15 l-2,8 M36,15 l-3,7 M45,15 l0,6 M55,14 l2,5" stroke="#8a7a66" stroke-width="1"/><path d="M40,4 l-2,8 M50,4 l-2,9 M60,5 l-2,9 M70,6 l-2,8" stroke="#b09a7a" stroke-width="0.7"/><circle cx="8" cy="3" r="1" fill="#222"/></g><path d="M526,352 C530,340 532,332 537,331 M524,350 C526,340 526,332 528,327" fill="none" stroke="#b09a7a" stroke-width="1.2"/><path d="M510,360 C512,352 516,350 520,349 M490,370 C494,365 498,363 502,362 M523,358 C526,362 526,368 524,371" fill="none" stroke="#555" stroke-width="1.5"/><g transform="rotate(-15 478 409)"><ellipse cx="478" cy="409" rx="15" ry="7.5" fill="#cfcfcf" stroke="#666" stroke-width="0.9"/><path d="M466,409 C472,406 482,405 490,407" stroke="#888" stroke-width="0.6" fill="none"/></g><path d="M492,406 C500,408 508,406 512,402 C514,395 511,388 509,377" fill="none" stroke="#e82020" stroke-width="1.5"/><g fill="none" stroke-linecap="round"><path d="M512,402 C530,390 555,390 571.5,400" stroke="#444" stroke-width="1.3"/><path d="M512,402 C512,418 530,428 553,432.7" stroke="#444" stroke-width="1.3"/><path d="M512,402 C520,388 535,378 548,377" stroke="#f2da5a" stroke-width="1"/><path d="M512,402 C535,402 560,392 571.5,379.6" stroke="#f2da5a" stroke-width="1"/><path d="M512,402 C525,418 550,425 575,431" stroke="#f2da5a" stroke-width="1"/><path d="M512,402 C505,408 505,412 510,416 C525,425 545,427 560,428" stroke="#f2da5a" stroke-width="1"/></g><path d="M612.4,326.5 C612,350 620,370 627.5,391 C630,402 625,410 625.7,416 L629,417.6" fill="none" stroke="#777" stroke-width="0.8"/><g stroke="#8fd0f4" stroke-width="0.8"><path d="M641.6,327 L635.4,377"/><path d="M645,327 L640,361"/><path d="M670.8,327 L665.5,363.7"/><path d="M673.5,332.7 L668,373.4"/></g><path d="M651.5,329 L653,329 L654,367.5 L657.5,371 L647,384 L643.5,365.5 L648,367 Z" fill="#1a8fdd"/><path d="M606,437.5 C630,434 680,436 699,436 C690,439 630,439 606,437.5 Z" fill="#c4bb80" stroke="#c4bb80" stroke-width="1.5"/><ellipse cx="639" cy="420" rx="9.5" ry="7.5" fill="#d4d4d4" stroke="#777" stroke-width="0.8"/><circle cx="629" cy="417" r="1.5" fill="#333"/><circle cx="647" cy="421" r="1.5" fill="#333"/><g transform="translate(669,384) rotate(137) scale(0.48)"><path d="M0,6 C8,0 20,-3 35,-2 C55,-1 75,1 90,5 C96,7 100,9 101,11 C95,13 88,12 80,13 C60,18 40,19 25,17 C15,15 8,11 0,6 Z" fill="#e6cda4" stroke="#8a7a66" stroke-width="0.7"/><path d="M2,6 C-10,4 -20,5 -28,8 M2,7 C-8,10 -16,13 -24,15" fill="none" stroke="#9a8a76" stroke-width="0.8"/><path d="M20,14 l-4,8 M28,15 l-2,8 M36,15 l-3,7 M45,15 l0,6 M55,14 l2,5" stroke="#8a7a66" stroke-width="1"/><path d="M40,4 l-2,8 M50,4 l-2,9 M60,5 l-2,9 M70,6 l-2,8" stroke="#b09a7a" stroke-width="0.7"/><circle cx="8" cy="3" r="1" fill="#222"/></g><path d="M669,384 C672,379 676,375 681,372 M668,383 C670,378 673,373 676,369" fill="none" stroke="#a08a6a" stroke-width="1"/><g fill="none" stroke-width="0.9"><path d="M654,420 C665,410 675,400 678,395" stroke="#f0a050"/><path d="M654,420 C670,415 680,405 684,402" stroke="#f0a050"/><path d="M654,420 C670,410 685,400 685,396" stroke="#bbb"/><path d="M654,418 C652,408 655,398 657,394" stroke="#e03030"/></g><path d="M650,398 C646,396 645,392 648,389 M660,392 C663,395 664,399 662,402" fill="none" stroke="#555" stroke-width="1.3"/><path d="M781,404 C777,402 776,398 779,395 M792,398 C795,401 796,405 794,408" fill="none" stroke="#555" stroke-width="1.3"/><path d="M746.2,332.7 L760.4,424.7" stroke="#888" stroke-width="0.9"/><path d="M739,437.5 C770,434 820,436 852.4,436.5 C840,439 770,439 739,437.5 Z" fill="#c4bb80" stroke="#c4bb80" stroke-width="1.5"/><ellipse cx="769" cy="429" rx="9" ry="7" fill="#d8d8d8" stroke="#555" stroke-width="0.9"/><circle cx="760" cy="425" r="1.8" fill="#333"/><circle cx="779" cy="431" r="1.5" fill="#333"/><g transform="translate(801,389) rotate(135) scale(0.5)"><path d="M0,6 C8,0 20,-3 35,-2 C55,-1 75,1 90,5 C96,7 100,9 101,11 C95,13 88,12 80,13 C60,18 40,19 25,17 C15,15 8,11 0,6 Z" fill="#e6cda4" stroke="#8a7a66" stroke-width="0.7"/><path d="M2,6 C-10,4 -20,5 -28,8 M2,7 C-8,10 -16,13 -24,15" fill="none" stroke="#9a8a76" stroke-width="0.8"/><path d="M20,14 l-4,8 M28,15 l-2,8 M36,15 l-3,7 M45,15 l0,6 M55,14 l2,5" stroke="#8a7a66" stroke-width="1"/><path d="M40,4 l-2,8 M50,4 l-2,9 M60,5 l-2,9 M70,6 l-2,8" stroke="#b09a7a" stroke-width="0.7"/><circle cx="8" cy="3" r="1" fill="#222"/></g><path d="M801,389 C805,384 809,381 813,379 M800,388 C802,383 804,379 808,376" fill="none" stroke="#a08a6a" stroke-width="1"/><g fill="none" stroke-width="0.9"><path d="M784,427 C795,415 810,410 820.6,405" stroke="#f0a050"/><path d="M784,427 C800,420 815,415 818,412" stroke="#f0a050"/><path d="M784,426 C800,428 820,432 831,432.7" stroke="#aaa"/><path d="M784,428 C795,432 810,434 815,434" stroke="#f0a050"/><path d="M783,425 C780,418 782,410 784,406" stroke="#e03030"/></g><path d="M810.5,379 C811,372 815,364 822,357 C823,355.5 830,355 837.5,355 C842,355 846,355.5 848,356 L851,358.8 L862.3,349.8 L859.3,356.5 L865.3,358.4 L851.8,361.8 C851,365 849.5,368 848.8,371.5 C845,373.5 840,375 834.5,376 L835.3,379.8 L831.5,381 L829.3,378.3 C825,379 818,380 815,379.8 C813,379.7 811,379.5 810.5,379 Z" fill="#b3b3b3"/><path d="M729.7,283 C731,276 737,269 746,264 C750,262 753,259 755,256 L757,257 L758,253 L760,255 L762,251.5 L764,254 L766,250.8 L768,254 L770,251.5 L771,255 L774,253 L775,256 C785,259 795,264 803,269 C806,271 809,273 812,273 C820,270 830,266 839.5,263 C836,267 833,272 831.4,277.4 C833,282 836,286 838.6,290 C830,288 822,285 814,282 C811,282 809,284 807,286 C800,291 792,295 784,297 C781,298 779,299 777,302 C775,301 773,300 771,299 C760,299 748,297 739,292 C734,290 730,287 729.7,283 Z" fill="#e5177f"/><g transform="rotate(-4 770 280)"><text x="746.4" y="275.6" font-size="9" font-weight="bold" fill="#fff" textLength="46.3" lengthAdjust="spacingAndGlyphs">SPÉCIAL</text><text x="743.6" y="287" font-size="9" font-weight="bold" fill="#fff" textLength="54.4" lengthAdjust="spacingAndGlyphs">SPARIDÉS</text></g><text x="707.6" y="317" font-size="11" font-weight="bold" fill="#1a1a1a" textLength="154.4" lengthAdjust="spacingAndGlyphs">Pêche de dorades, pagres, ...</text>
</svg>
</body></html>
